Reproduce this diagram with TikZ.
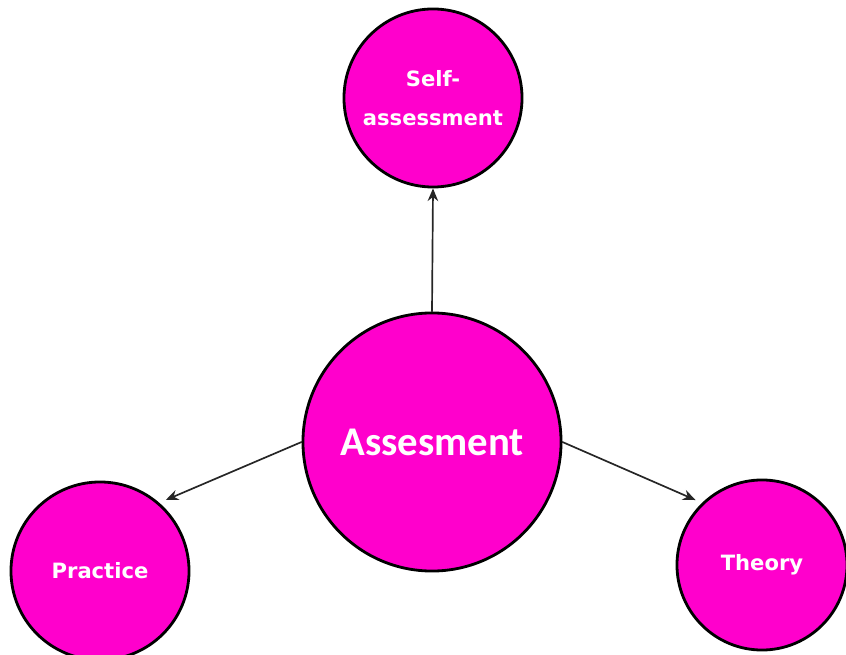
\documentclass[tikz,border=0pt]{standalone}
\usepackage{fontspec}
\usetikzlibrary{arrows.meta}
\newfontfamily\bigfont{Carlito}
\newfontfamily\smallfont{DejaVu Sans}
\definecolor{pinkfill}{RGB}{255,0,204}
\begin{document}
\begin{tikzpicture}[>={Stealth[length=9pt,width=7.5pt]},line join=round,line cap=round,x=0.025cm,y=-0.025cm,
	bubble/.style={circle,draw=black,line width=2pt,fill=pinkfill,text=white,align=center,inner sep=0pt},
	link/.style={->,line width=1.2pt,black!85}]
				\useasboundingbox (0,0) rectangle (846,655);
				\node[bubble,minimum size=6.45cm,font=\bigfont\bfseries\fontsize{29}{34}\selectfont] (cen) at (432,442) {Assesment};
				\node[bubble,minimum size=4.45cm,font=\smallfont\bfseries\fontsize{15}{28}\selectfont] (self) at (433,98) {Self-\\assessment};
				\node[bubble,minimum size=4.45cm,font=\smallfont\bfseries\fontsize{15}{18}\selectfont] (prac) at (100,571) {Practice};
				\node[bubble,minimum size=4.25cm,font=\smallfont\bfseries\fontsize{15}{18}\selectfont] (theo) at (762,565) {Theory};
				\draw[link] (cen.north)--(self.south);
				\draw[link,shorten >=5pt] (cen.west)--(prac.49);
				\draw[link,shorten >=5pt] (cen.east)--(theo.134);
			\end{tikzpicture}
\end{document}
